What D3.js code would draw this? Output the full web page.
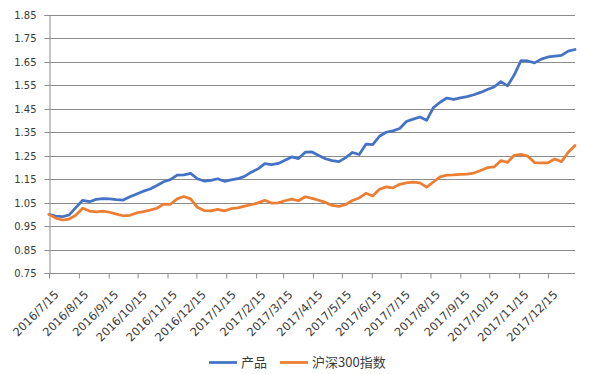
<!DOCTYPE html>
<html>
<head>
<meta charset="utf-8">
<script src="https://cdn.jsdelivr.net/npm/d3@7/dist/d3.min.js"></script>
<style>
  html, body { margin: 0; padding: 0; background: #fff; }
  svg { display: block; }
</style>
</head>
<body>
<svg id="chart" width="592" height="374"></svg>
<script>
// ---- data ----
const dates = [
  "2016-07-15","2016-07-22","2016-07-29","2016-08-05","2016-08-12","2016-08-19","2016-08-26",
  "2016-09-02","2016-09-09","2016-09-16","2016-09-23","2016-09-30","2016-10-07","2016-10-14",
  "2016-10-21","2016-10-28","2016-11-04","2016-11-11","2016-11-18","2016-11-25","2016-12-02",
  "2016-12-09","2016-12-16","2016-12-23","2016-12-30","2017-01-06","2017-01-13","2017-01-20",
  "2017-01-27","2017-02-03","2017-02-10","2017-02-17","2017-02-24","2017-03-03","2017-03-10",
  "2017-03-17","2017-03-24","2017-03-31","2017-04-07","2017-04-14","2017-04-21","2017-04-28",
  "2017-05-05","2017-05-12","2017-05-19","2017-05-26","2017-06-02","2017-06-09","2017-06-16",
  "2017-06-23","2017-06-30","2017-07-07","2017-07-14","2017-07-21","2017-07-28","2017-08-04",
  "2017-08-11","2017-08-18","2017-08-25","2017-09-01","2017-09-08","2017-09-15","2017-09-22",
  "2017-09-29","2017-10-06","2017-10-13","2017-10-20","2017-10-27","2017-11-03","2017-11-10",
  "2017-11-17","2017-11-24","2017-12-01","2017-12-08","2017-12-15","2017-12-22","2017-12-29",
  "2018-01-05","2018-01-12"
];
const product = [
  1.000,0.993,0.990,0.998,1.030,1.060,1.054,1.064,1.067,1.066,1.063,1.061,1.075,1.087,
  1.099,1.108,1.123,1.139,1.148,1.167,1.168,1.175,1.152,1.142,1.145,1.152,1.141,1.147,
  1.152,1.162,1.180,1.194,1.216,1.212,1.217,1.231,1.245,1.238,1.265,1.266,1.251,1.237,
  1.229,1.225,1.242,1.264,1.255,1.299,1.297,1.333,1.350,1.356,1.366,1.396,1.406,1.415,
  1.401,1.455,1.478,1.496,1.490,1.497,1.502,1.510,1.520,1.532,1.543,1.566,1.548,1.595,
  1.656,1.654,1.646,1.662,1.671,1.675,1.678,1.696,1.703
];
const hs300 = [
  1.000,0.984,0.976,0.980,0.997,1.026,1.014,1.011,1.014,1.009,1.001,0.994,0.996,1.006,
  1.012,1.018,1.026,1.044,1.043,1.066,1.076,1.066,1.030,1.016,1.015,1.021,1.015,1.024,
  1.028,1.035,1.041,1.049,1.060,1.048,1.049,1.058,1.065,1.058,1.075,1.068,1.060,1.051,
  1.038,1.034,1.042,1.059,1.070,1.090,1.078,1.107,1.117,1.113,1.128,1.134,1.137,1.134,
  1.116,1.138,1.160,1.167,1.168,1.170,1.172,1.176,1.187,1.199,1.202,1.229,1.222,1.252,
  1.256,1.248,1.221,1.219,1.220,1.236,1.225,1.265,1.294
];
const yTicks = [0.75,0.85,0.95,1.05,1.15,1.25,1.35,1.45,1.55,1.65,1.75,1.85];
const xTickLabels = [
  "2016/7/15","2016/8/15","2016/9/15","2016/10/15","2016/11/15","2016/12/15",
  "2017/1/15","2017/2/15","2017/3/15","2017/4/15","2017/5/15","2017/6/15",
  "2017/7/15","2017/8/15","2017/9/15","2017/10/15","2017/11/15","2017/12/15"
];
const seriesNames = ["产品","沪深300指数"];
const seriesColors = ["#4472C4","#ED7D31"];

// ---- layout ----
const plotLeft = 49, plotRight = 575, plotTop = 15, plotBottom = 273;
const parse = d3.timeParse("%Y-%m-%d");
const parseTick = d3.timeParse("%Y/%m/%d");
const dateObjs = dates.map(parse);

const x = d3.scaleTime()
  .domain([dateObjs[0], dateObjs[dateObjs.length - 1]])
  .range([plotLeft, plotRight]);
const y = d3.scaleLinear().domain([0.75, 1.85]).range([plotBottom, plotTop]);

const svg = d3.select("#chart");
const gridColor = "#8c8c8c";
const axisColor = "#8c8c8c";
const textColor = "#3a3a3a";

// gridlines
svg.append("g")
  .selectAll("line")
  .data(yTicks)
  .join("line")
  .attr("x1", plotLeft).attr("x2", plotRight)
  .attr("y1", d => Math.round(y(d)) + 0.5).attr("y2", d => Math.round(y(d)) + 0.5)
  .attr("stroke", gridColor).attr("stroke-width", 1);

// y axis
const yAxis = d3.axisLeft(y).tickValues(yTicks).tickFormat(d3.format(".2f")).tickSize(5).tickPadding(8);
const gy = svg.append("g").attr("transform", `translate(${plotLeft + 0.5},0)`).call(yAxis);
gy.select(".domain").attr("stroke", axisColor);
gy.selectAll(".tick line").attr("stroke", axisColor);
gy.selectAll(".tick text")
  .attr("fill", textColor)
  .style("font-family", "'DejaVu Sans', sans-serif")
  .style("font-size", "10px");
gy.selectAll(".tick").attr("transform", d => `translate(0,${Math.round(y(d)) + 0.5})`);

// x axis
const tickDates = xTickLabels.map(parseTick);
const xAxis = d3.axisBottom(x).tickValues(tickDates).tickFormat((d, i) => xTickLabels[i]).tickSize(5).tickSizeOuter(0);
const gx = svg.append("g").attr("transform", `translate(0,${Math.round(y(0.75)) + 0.5})`).call(xAxis);
gx.select(".domain").attr("stroke", axisColor).attr("d", `M${plotLeft},0H${plotRight}`);
gx.selectAll(".tick line").attr("stroke", axisColor);
gx.selectAll(".tick text")
  .attr("fill", textColor)
  .style("font-family", "'DejaVu Sans', sans-serif")
  .style("font-size", "11.5px")
  .attr("text-anchor", "end")
  .attr("transform", "translate(7,19) rotate(-45)")
  .attr("x", 0).attr("y", 0).attr("dy", "0.35em");

// lines
const seriesData = [product, hs300];
const line = d3.line()
  .x((d, i) => x(dateObjs[i]))
  .y(d => y(d))
  .curve(d3.curveLinear);

svg.append("g")
  .selectAll("path")
  .data(seriesData)
  .join("path")
  .attr("d", d => line(d))
  .attr("fill", "none")
  .attr("stroke", (d, i) => seriesColors[i])
  .attr("stroke-width", 2.75)
  .attr("stroke-linejoin", "round")
  .attr("stroke-linecap", "round");

// legend
const legend = svg.append("g").attr("transform", "translate(0,362.5)");
const legendItems = [
  { x0: 209, name: seriesNames[0], color: seriesColors[0] },
  { x0: 280, name: seriesNames[1], color: seriesColors[1] }
];
legendItems.forEach(it => {
  legend.append("line")
    .attr("x1", it.x0).attr("x2", it.x0 + 28)
    .attr("y1", 0).attr("y2", 0)
    .attr("stroke", it.color).attr("stroke-width", 2.75);
  legend.append("text")
    .attr("x", it.x0 + 32).attr("y", 0).attr("dy", "0.35em")
    .attr("fill", textColor)
    .style("font-family", "'Noto Sans CJK SC', sans-serif")
    .style("font-size", "13px")
    .text(it.name);
});
</script>
</body>
</html>
